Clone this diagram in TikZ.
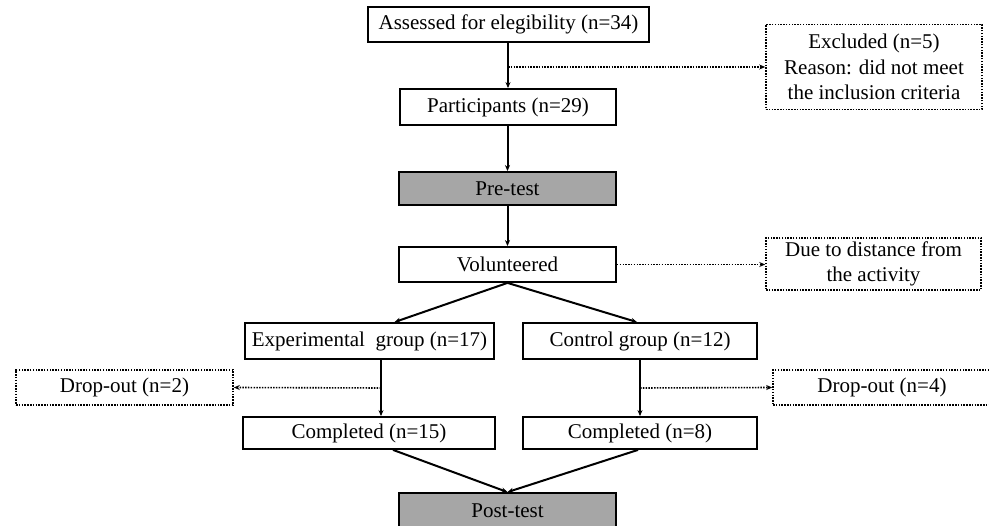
\documentclass[tikz,border=0pt]{standalone}
\usepackage{fontspec}
\setmainfont{Liberation Serif}
\usetikzlibrary{arrows.meta,calc}
\definecolor{boxgray}{HTML}{A6A6A6}
\begin{document}
\begin{tikzpicture}[x=1pt,y=-1pt,
  every node/.style={font=\fontsize{21}{25.5}\selectfont, inner sep=0pt, align=center},
  solidbox/.style={draw=black, line width=1.8pt, fill=white},
  graybox/.style={draw=black, line width=1.8pt, fill=boxgray},
  dotbox/.style={draw=black, line width=1.6pt, dash pattern=on 1.5pt off 1.3pt, fill=white},
  arr/.style={line width=2pt, -{Stealth[length=6pt,width=5pt]}},
  dotarr/.style={line width=1.6pt, dash pattern=on 1.5pt off 1.3pt, -{Stealth[length=6pt,width=5pt]}}]
\useasboundingbox (0,0) rectangle (989,526);
\fill[white] (0,0) rectangle (989,526);
\node[solidbox, minimum width=281pt, minimum height=35pt] (assess) at (508.5,24.5) {Assessed for elegibility (n=34)};
\node[dotbox, minimum width=216pt, minimum height=85pt] (excl) at (874,67) {Excluded (n=5)\\Reason: did not meet\\the inclusion criteria};
\node[solidbox, minimum width=216pt, minimum height=36pt] (part) at (508,107) {Participants (n=29)};
\node[graybox, minimum width=217pt, minimum height=33pt] (pre) at (507.5,188.5) {Pre-test};
\node[solidbox, minimum width=217pt, minimum height=35pt] (vol) at (507.5,264.5) {Volunteered};
\node[dotbox, minimum width=215pt, minimum height=52pt] (dist) at (873.5,264) {Due to distance from\\the activity};
\node[solidbox, minimum width=249pt, minimum height=36pt] (exp) at (369.5,341) {Experimental\ \ group (n=17)};
\node[solidbox, minimum width=234pt, minimum height=36pt] (ctrl) at (640,341) {Control group (n=12)};
\node[dotbox, minimum width=217pt, minimum height=35pt] (drop1) at (124.5,387.5) {Drop-out (n=2)};
\node[dotbox, minimum width=218pt, minimum height=35pt] (drop2) at (882,387.5) {Drop-out (n=4)};
\node[solidbox, minimum width=252pt, minimum height=32pt] (comp1) at (369,433) {Completed (n=15)};
\node[solidbox, minimum width=234pt, minimum height=32pt] (comp2) at (640,433) {Completed (n=8)};
\node[graybox, minimum width=217pt, minimum height=36pt] (post) at (507.5,511) {Post-test};
% connectors
\draw[arr] (assess.south -| part.north) -- (part.north);
\coordinate (b1) at (508,67);
\draw[dotarr] (b1) -- (excl.west);
\draw[arr] (part.south -| pre.north) -- (pre.north);
\draw[arr] (pre.south) -- (vol.north);
\draw[dotarr] (vol.east) -- (vol.east -| dist.west);
\draw[arr] (vol.south) -- ([xshift=25pt]exp.north);
\draw[arr] (vol.south) -- ([xshift=-3pt]ctrl.north);
\draw[arr] ([xshift=11.5pt]exp.south) -- ([xshift=12pt]comp1.north);
\coordinate (b2) at (381,388);
\draw[dotarr] (b2) -- (drop1.east);
\draw[arr] (ctrl.south) -- (comp2.north);
\coordinate (b3) at (640,388);
\draw[dotarr] (b3) -- (drop2.west);
\draw[arr] ([xshift=24pt]comp1.south) -- (post.north);
\draw[arr] ([xshift=-2pt]comp2.south) -- (post.north);
\end{tikzpicture}
\end{document}
